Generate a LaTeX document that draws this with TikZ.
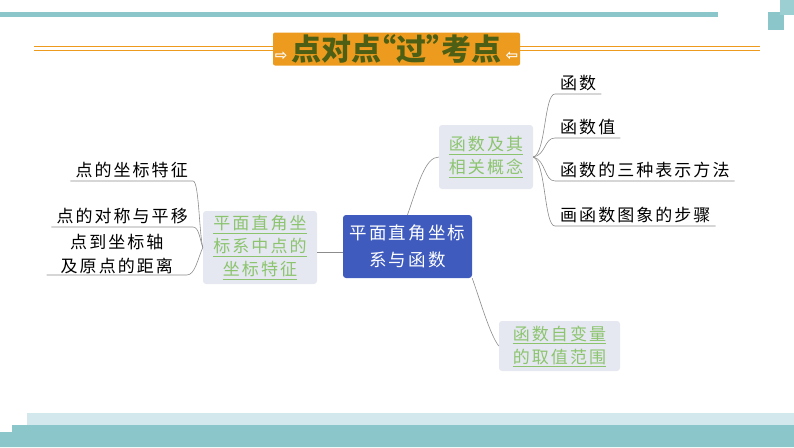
\documentclass[tikz,border=0pt]{standalone}
\usepackage{fontspec}
\setmainfont{Noto Sans CJK SC}
\newfontfamily\cjkspaced[LetterSpace=12]{Noto Sans CJK SC}
\newfontfamily\symfont{DejaVu Sans}
\definecolor{bandteal}{HTML}{8BC7CA}
\definecolor{bandlight}{HTML}{D3E8EC}
\definecolor{titleorange}{HTML}{EC9B1E}
\definecolor{titleolive}{HTML}{4D5F14}
\definecolor{topicblue}{HTML}{3F5BBE}
\definecolor{subgrey}{HTML}{E5E8F1}
\definecolor{subgreen}{HTML}{8CC46E}
\newcommand\titlearrow[1]{{\symfont\bfseries\fontsize{15}{15}\selectfont\textcolor{white}{#1}}}
\begin{document}
\begin{tikzpicture}[x=1pt, y=-1pt,
    titlebox/.style={fill=titleorange, rounded corners=2pt, minimum width=247pt, minimum height=33pt, inner sep=0pt, text=titleolive, font=\bfseries\fontsize{30}{32}\selectfont},
    titleline/.style={draw=titleorange, line width=1.3pt},
    topic/.style={fill=topicblue, rounded corners=3pt, text=white, align=center, minimum width=129pt, minimum height=63pt, inner sep=0pt, font=\cjkspaced\fontsize{17.5}{27}\selectfont},
    subtopic/.style={fill=subgrey, rounded corners=3pt, text=subgreen, align=center, inner sep=0pt, font=\cjkspaced\fontsize{17}{23}\selectfont},
    leaf/.style={inner xsep=5pt, inner ysep=3pt, align=center, font=\cjkspaced\fontsize{17}{24}\selectfont},
    branch/.style={draw=gray!90, line width=0.6pt}
  ]
    \useasboundingbox (0,0) rectangle (794,447);

    % Bands
    \fill[bandteal] (0,12) rectangle (718,17);
    \fill[bandteal] (768,12) rectangle (784,30);
    \fill[bandteal!85] (780,0) rectangle (794,15);
    \fill[bandlight] (27,413) rectangle (794,425);
    \fill[bandteal] (12,425) -- (794,425) -- (794,447) -- (0,447) -- (0,432) -- (12,432) -- cycle;

    % Title
    \node[titlebox] at (396.5,49) (title) {\titlearrow{⇨}\hspace{4pt}点对点\hspace{-0.5em}“过”\hspace{-0.5em}考点\hspace{4pt}\titlearrow{⇦}};
    \coordinate (tleft) at (34,48);
    \coordinate (tright) at (760,48);
    \draw[titleline] ([yshift=1.5pt]tleft) -- ([yshift=1.5pt]tleft -| title.west);
    \draw[titleline, line width=0.9pt] ([yshift=-2pt]tleft) -- ([yshift=-2pt]tleft -| title.west);
    \draw[titleline] ([yshift=1.5pt]title.east |- tright) -- ([yshift=1.5pt]tright);
    \draw[titleline, line width=0.9pt] ([yshift=-2pt]title.east |- tright) -- ([yshift=-2pt]tright);

    % Topics
    \node[topic] at (407.5,246.5) (topic) {平面直角坐标\\系与函数};
    \node[subtopic, minimum width=114pt, minimum height=73pt] at (260,247.5) (lsub) {\underline{平面直角坐}\\\underline{标系中点的}\\\underline{坐标特征}};
    \node[subtopic, minimum width=94pt, minimum height=64pt] at (486,157) (rsub) {\underline{函数及其}\\\underline{相关概念}};
    \node[subtopic, minimum width=121pt, minimum height=50pt] at (559.5,346) (bsub) {\underline{函数自变量}\\\underline{的取值范围}};

    % Leaves
    \node[leaf, anchor=south east] at (193,181) (ll1) {点的坐标特征};
    \node[leaf, anchor=south east] at (193,227) (ll2) {点的对称与平移};
    \node[leaf, anchor=south east, minimum width=140pt, inner ysep=1pt] at (187,275) (ll3) {点到坐标轴\\及原点的距离};
    \node[leaf, anchor=south west] at (555,94) (rl1) {函数};
    \node[leaf, anchor=south west] at (555,138) (rl2) {函数值};
    \node[leaf, anchor=south west] at (555,181) (rl3) {函数的三种表示方法};
    \node[leaf, anchor=south west] at (555,226) (rl4) {画函数图象的步骤};

    % Connections
    \draw[branch] ([yshift=-5pt]lsub.east) -- ([yshift=-5pt]lsub.east -| topic.west);
    \draw[branch] (topic.north) .. controls (418,185) and (425,157) .. (rsub.west);
    \draw[branch] (topic.south east) .. controls (480,300) and (490,335) .. (bsub.west);

    \draw[branch] (lsub.west) .. controls (199,232) and (199,181) .. (ll1.south east) -- (ll1.south west);
    \draw[branch] (lsub.west) .. controls (200,240) and (199,227) .. (ll2.south east) -- (ll2.south west);
    \draw[branch] (lsub.west) .. controls (198,258) and (195,275) .. (ll3.south east) -- (ll3.south west);

    \draw[branch] (rsub.east) .. controls (546,154) and (544,94) .. (rl1.south west) -- (rl1.south east);
    \draw[branch] (rsub.east) .. controls (546,155) and (544,138) .. (rl2.south west) -- (rl2.south east);
    \draw[branch] (rsub.east) .. controls (546,160) and (544,181) .. (rl3.south west) -- (rl3.south east);
    \draw[branch] (rsub.east) .. controls (546,162) and (544,226) .. (rl4.south west) -- (rl4.south east);

  \end{tikzpicture}
\end{document}
